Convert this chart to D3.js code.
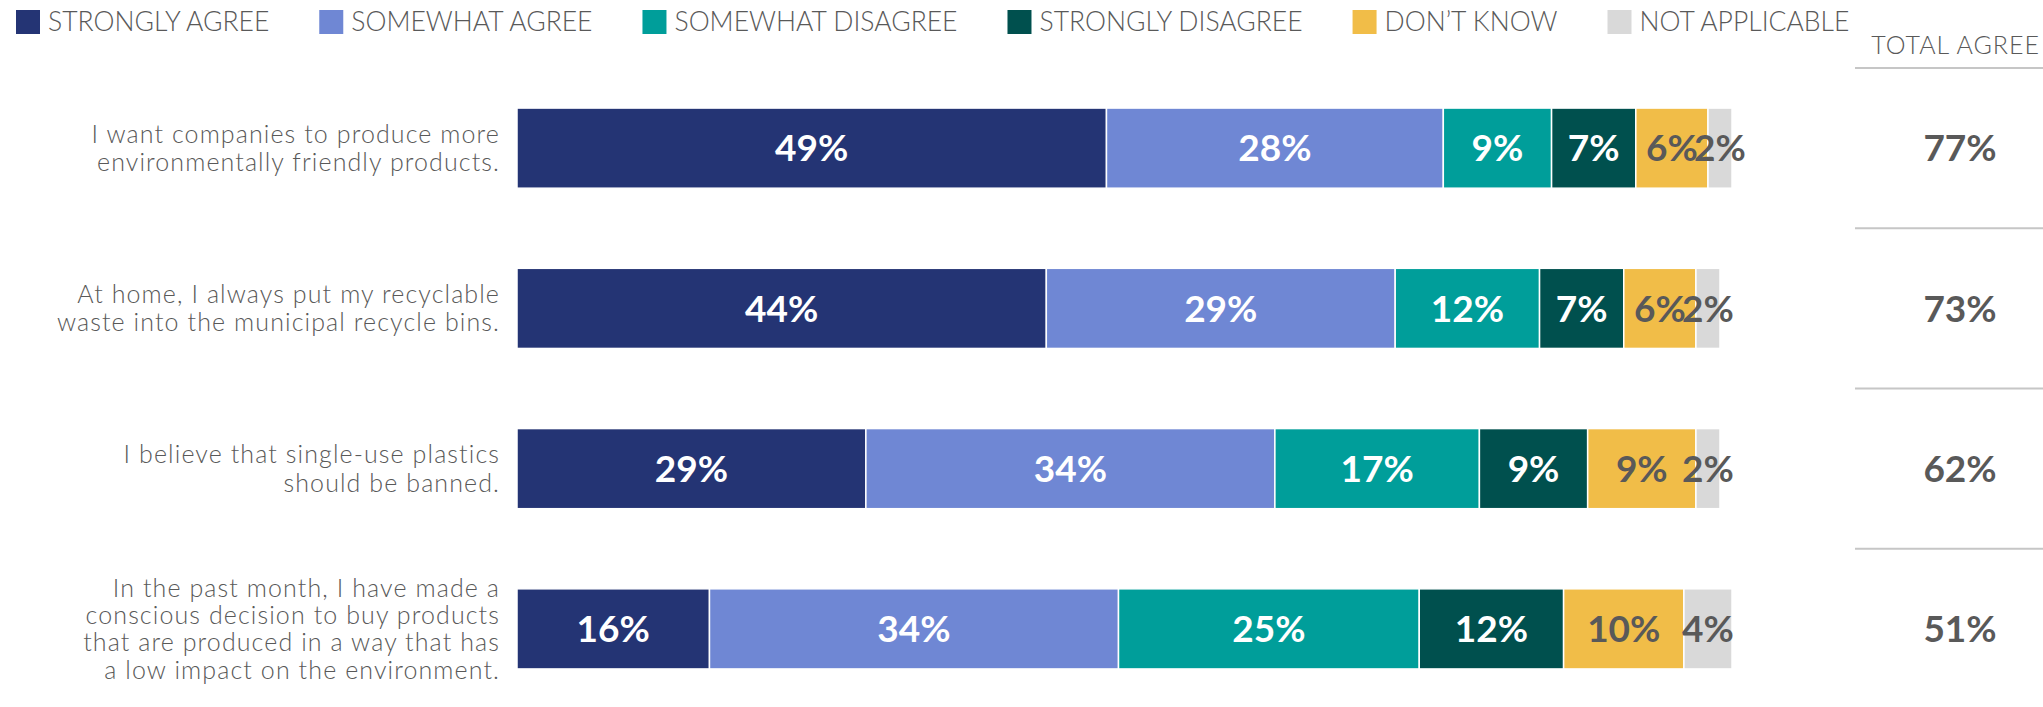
<!DOCTYPE html>
<html lang="en">
<head>
<meta charset="utf-8" />
<title>Attitudes to the environment</title>
<script src="https://d3js.org/d3.v7.min.js"></script>
<style>
  body { margin: 0; background: #fff; }
  svg { display: block; }
  text { fill: #595959; }
</style>
</head>
<body>
<svg id="chart" width="2043" height="707"></svg>
<script>
// answers, in stacking order
const answers = ["STRONGLY AGREE", "SOMEWHAT AGREE", "SOMEWHAT DISAGREE", "STRONGLY DISAGREE", "DON\u2019T KNOW", "NOT APPLICABLE"];
const colors = ["#243474", "#6f87d4", "#009e9a", "#00504e", "#f1bd48", "#d9d9d9"];
const labelColors = ["#fff", "#fff", "#fff", "#fff", "#595959", "#595959"];

// statements (one line per array entry)
const statements = [
    ["I want companies to produce more", "environmentally friendly products."],
    ["At home, I always put my recyclable", "waste into the municipal recycle bins."],
    ["I believe that single-use plastics", "should be banned."],
    ["In the past month, I have made a", "conscious decision to buy products", "that are produced in a way that has", "a low impact on the environment."]
];

// % per answer, per statement
const stronglyAgree    = [49, 44, 29, 16];
const somewhatAgree    = [28, 29, 34, 34];
const somewhatDisagree = [9, 12, 17, 25];
const stronglyDisagree = [7, 7, 9, 12];
const dontKnow         = [6, 6, 9, 10];
const notApplicable    = [2, 2, 2, 4];
const totalAgree       = [77, 73, 62, 51];

const series = [stronglyAgree, somewhatAgree, somewhatDisagree, stronglyDisagree, dontKnow, notApplicable];

const svg = d3.select("#chart");
const font = "Lato, 'Open Sans', sans-serif";

// scales
const x = d3.scaleLinear().domain([0, 100]).range([517, 1720]);
const y = d3.scaleBand()
    .domain(d3.range(statements.length))
    .range([68, 709])
    .paddingInner(0.5)
    .paddingOuter(0.25);

// build stacked rows
const rows = statements.map((s, i) => {
    let acc = 0;
    return series.map((vals, k) => {
        const seg = { row: i, k: k, v: vals[i], x0: acc, x1: acc + vals[i] };
        acc += vals[i];
        return seg;
    });
});

// legend
const legend = svg.append("g").attr("class", "legend");
let lx = 16;
answers.forEach((a, k) => {
    const g = legend.append("g").attr("transform", "translate(" + lx + ",0)");
    g.append("rect")
        .attr("x", 0).attr("y", 10)
        .attr("width", 24).attr("height", 24)
        .attr("fill", colors[k]);
    const t = g.append("text")
        .attr("x", 32).attr("y", 31)
        .attr("font-family", font)
        .attr("font-weight", 300)
        .attr("font-size", 26.5)
        .text(a);
    lx += 32 + t.node().getComputedTextLength() + 50;
});

// statement labels
const labels = svg.append("g").attr("class", "statements");
statements.forEach((lines, i) => {
    const cy = y(i) + y.bandwidth() / 2;
    const lh = lines.length > 2 ? 27.4 : 28.7;
    const t = labels.append("text")
        .attr("text-anchor", "end")
        .attr("font-family", font)
        .attr("font-weight", 300)
        .attr("font-size", 25)
        .attr("letter-spacing", 1.1);
    t.selectAll("tspan")
        .data(lines)
        .enter()
        .append("tspan")
        .attr("x", 500)
        .attr("y", (d, j) => cy + (j - (lines.length - 1) / 2) * lh)
        .attr("dy", "0.35em")
        .text(d => d);
});

// bars
const bars = svg.append("g").attr("class", "bars");
const seg = bars.selectAll("g.row")
    .data(rows)
    .enter()
    .append("g")
    .attr("class", "row")
    .selectAll("g.seg")
    .data(d => d)
    .enter()
    .append("g")
    .attr("class", "seg");

seg.append("rect")
    .attr("x", d => x(d.x0))
    .attr("y", d => y(d.row))
    .attr("width", d => x(d.x1) - x(d.x0))
    .attr("height", y.bandwidth())
    .attr("fill", d => colors[d.k])
    .attr("stroke", "#fff")
    .attr("stroke-width", 1.5);

seg.append("text")
    .attr("x", d => (x(d.x0) + x(d.x1)) / 2)
    .attr("y", d => y(d.row) + y.bandwidth() / 2)
    .attr("dy", "0.36em")
    .attr("text-anchor", "middle")
    .attr("font-family", font)
    .attr("font-weight", 700)
    .attr("font-size", 37)
    .style("fill", d => labelColors[d.k])
    .text(d => d.v + "%");

// total agree column
const tot = svg.append("g").attr("class", "total");
tot.append("text")
    .attr("x", 2040)
    .attr("y", 54)
    .attr("text-anchor", "end")
    .attr("font-family", font)
    .attr("font-weight", 300)
    .attr("font-size", 25)
    .attr("letter-spacing", 1)
    .text("TOTAL AGREE");

tot.selectAll("line")
    .data(totalAgree)
    .enter()
    .append("line")
    .attr("x1", 1855).attr("x2", 2043)
    .attr("y1", (d, i) => y(i) - y.step() * 0.25)
    .attr("y2", (d, i) => y(i) - y.step() * 0.25)
    .attr("stroke", "#c6c6c6")
    .attr("stroke-width", 2);

tot.selectAll("text.val")
    .data(totalAgree)
    .enter()
    .append("text")
    .attr("class", "val")
    .attr("x", 1960)
    .attr("y", (d, i) => y(i) + y.bandwidth() / 2)
    .attr("dy", "0.36em")
    .attr("text-anchor", "middle")
    .attr("font-family", font)
    .attr("font-weight", 700)
    .attr("font-size", 37)
    .text(d => d + "%");
</script>
</body>
</html>
